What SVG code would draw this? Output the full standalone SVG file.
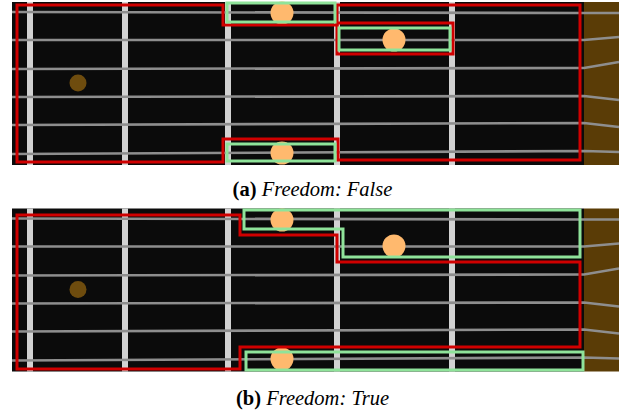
<svg xmlns="http://www.w3.org/2000/svg" xmlns:xlink="http://www.w3.org/1999/xlink" width="619" height="415" viewBox="0 0 619 415">
<style>
.bg{fill:#0b0b0b}
.nut{fill:#5a3c06}
.str{stroke:#8e8e8e;stroke-width:2.6;fill:none}
.fret{stroke:#d2d2d2;stroke-width:6}
.inlay{fill:#6e4c0e}
.note{fill:#ffb96e}
.red{fill:none;stroke:#d00000;stroke-width:3}
.green{fill:none;stroke:#8fe39a;stroke-width:3}
.cap{font-family:"Liberation Serif","Times New Roman",serif;font-size:20.5px;fill:#000}
</style>
<defs>
<g id="board">
<rect class="bg" x="12" y="2" width="572" height="163"/>
<rect class="nut" x="584" y="2" width="35" height="163"/>
<g class="fret">
<line x1="30" y1="2" x2="30" y2="165"/>
<line x1="125" y1="2" x2="125" y2="165"/>
<line x1="228" y1="2" x2="228" y2="165"/>
<line x1="337" y1="2" x2="337" y2="165"/>
<line x1="452" y1="2" x2="452" y2="165"/>
</g>
<g class="str">
<polyline points="12,12 584,13 619,13"/>
<polyline points="12,40 584,40 619,37"/>
<polyline points="12,69 584,68 619,62"/>
<polyline points="12,97 584,96 619,100"/>
<polyline points="12,125 584,123 619,127"/>
<polyline points="12,154 584,151 619,152"/>
</g>
<circle class="inlay" cx="78" cy="83" r="8.5"/>
</g>
</defs>

<g id="panel-a">
<use xlink:href="#board"/>
<g id="notes-a">
<circle class="note" cx="282" cy="13" r="11.5"/>
<circle class="note" cx="394" cy="40" r="11.5"/>
<circle class="note" cx="282" cy="153" r="11.5"/>
</g>
<g id="regions-a">
<path class="red" d="M17,5 H223 V25 H337 V5 H580 V160 H338 V139 H223 V162 H17 Z"/>
<rect class="red" x="337" y="23" width="116" height="31"/>
<rect class="green" x="227" y="3" width="108" height="19"/>
<rect class="green" x="339" y="28" width="111" height="22"/>
<rect class="green" x="227" y="144" width="108" height="17"/>
</g>
<text class="cap" x="312.5" y="196" text-anchor="middle"><tspan font-weight="bold">(a)</tspan> <tspan font-style="italic">Freedom: False</tspan></text>
</g>

<g id="panel-b">
<use xlink:href="#board" transform="translate(0,206.5)"/>
<g id="notes-b">
<circle class="note" cx="282" cy="220" r="11.5"/>
<circle class="note" cx="394" cy="246" r="11.5"/>
<circle class="note" cx="282" cy="359" r="11.5"/>
</g>
<g id="regions-b">
<path class="red" d="M17,215 H240 V235 H337 V262 H580 V347 H240 V369 H17 Z"/>
<path class="green" d="M244,210 H580 V257 H343 V229 H244 Z"/>
<rect class="green" x="246" y="352" width="337" height="18"/>
</g>
<text class="cap" x="312.5" y="405" text-anchor="middle"><tspan font-weight="bold">(b)</tspan> <tspan font-style="italic">Freedom: True</tspan></text>
</g>
</svg>
